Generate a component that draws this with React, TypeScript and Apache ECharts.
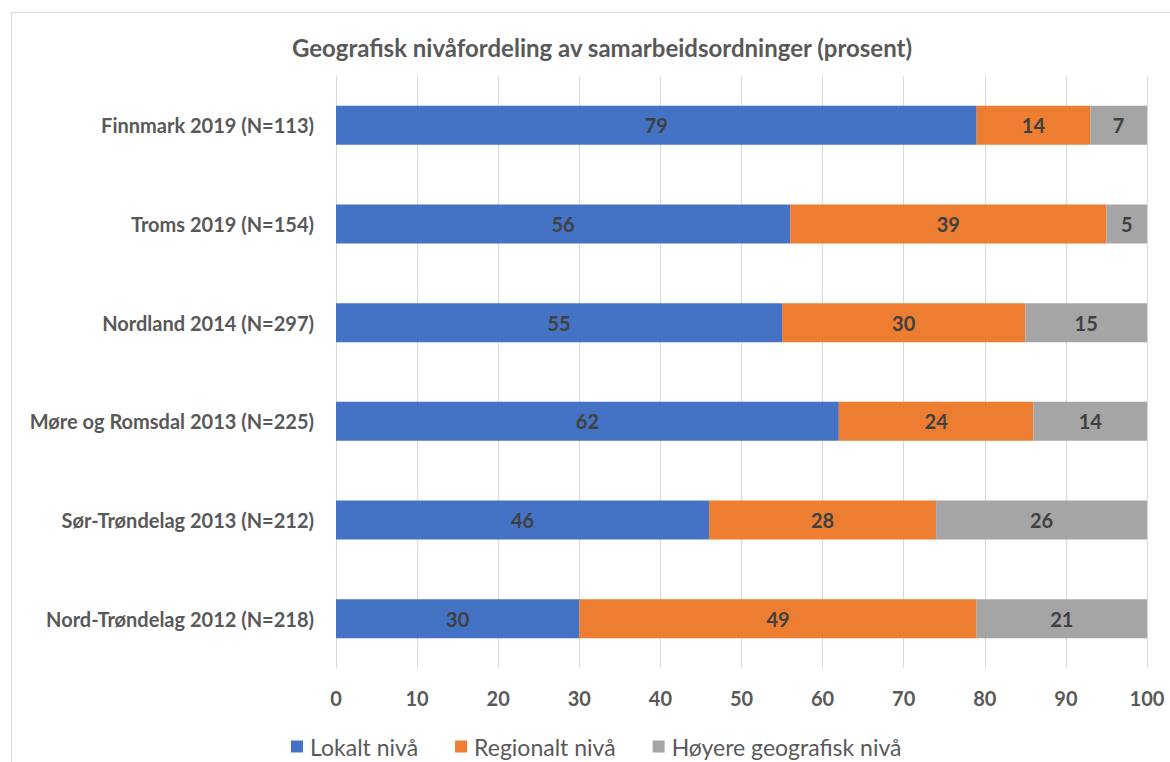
import React, { useEffect, useRef } from "react";
import * as echarts from "echarts";

const categories = [
  "Finnmark 2019 (N=113)",
  "Troms 2019 (N=154)",
  "Nordland 2014 (N=297)",
  "Møre og Romsdal 2013 (N=225)",
  "Sør-Trøndelag 2013 (N=212)",
  "Nord-Trøndelag 2012 (N=218)",
];
const lokalt = [79, 56, 55, 62, 46, 30];
const regionalt = [14, 39, 30, 24, 28, 49];
const hoyere = [7, 5, 15, 14, 26, 21];
const seriesNames = ["Lokalt nivå", "Regionalt nivå", "Høyere geografisk nivå"];
const colors = ["#4472C4", "#ED7D31", "#A5A5A5"];
const titleText = "Geografisk nivåfordeling av samarbeidsordninger (prosent)";

const FONT = "Lato, 'Open Sans', sans-serif";

export default function App() {
  const ref = useRef<HTMLDivElement>(null);
  useEffect(() => {
    if (!ref.current) return;
    const chart = echarts.init(ref.current, null, { renderer: "svg" });
    const mk = (name: string, data: number[], color: string) => ({
      name,
      type: "bar",
      stack: "total",
      data,
      barWidth: 39,
      itemStyle: { color },
      label: {
        show: true,
        position: "inside",
        color: "#404040",
        fontWeight: "bold",
        fontSize: 20,
        fontFamily: FONT,
      },
    });
    chart.setOption({
      animation: false,
      backgroundColor: "#ffffff",
      textStyle: { fontFamily: FONT },
      title: {
        text: titleText,
        left: 597,
        textAlign: "center",
        top: 30,
        textStyle: { fontFamily: FONT, fontSize: 24, fontWeight: "bold", color: "#595959" },
      },
      graphic: [
        {
          type: "rect",
          shape: { x: 11.5, y: 12.5, width: 1250, height: 900 },
          style: { fill: "none", stroke: "#d9d9d9", lineWidth: 1 },
          silent: true,
        },
      ],
      legend: {
        left: 286,
        top: 730,
        itemWidth: 12,
        itemHeight: 12,
        itemGap: 37,
        icon: "rect",
        textStyle: { fontFamily: FONT, fontSize: 23, color: "#595959", padding: [0, 0, 0, 2] },
        data: seriesNames,
      },
      grid: { left: 336, right: 23, top: 76, bottom: 94, containLabel: false },
      xAxis: {
        type: "value",
        min: 0,
        max: 100,
        interval: 10,
        axisLine: { show: false },
        axisTick: { show: false },
        splitLine: { lineStyle: { color: "#d9d9d9", width: 1 } },
        axisLabel: {
          margin: 20,
          color: "#595959",
          fontWeight: "bold",
          fontSize: 20,
          fontFamily: FONT,
        },
      },
      yAxis: {
        type: "category",
        inverse: true,
        data: categories,
        axisLine: { show: true, lineStyle: { color: "#d9d9d9" } },
        axisTick: { show: false },
        axisLabel: {
          margin: 22,
          color: "#595959",
          fontWeight: "bold",
          fontSize: 20,
          fontFamily: FONT,
        },
      },
      series: [
        mk(seriesNames[0], lokalt, colors[0]),
        mk(seriesNames[1], regionalt, colors[1]),
        mk(seriesNames[2], hoyere, colors[2]),
      ],
    });
    return () => chart.dispose();
  }, []);
  return (
    <div
      ref={ref}
      style={{ position: "absolute", left: 0, top: 0, width: 1170, height: 762 }}
    />
  );
}
